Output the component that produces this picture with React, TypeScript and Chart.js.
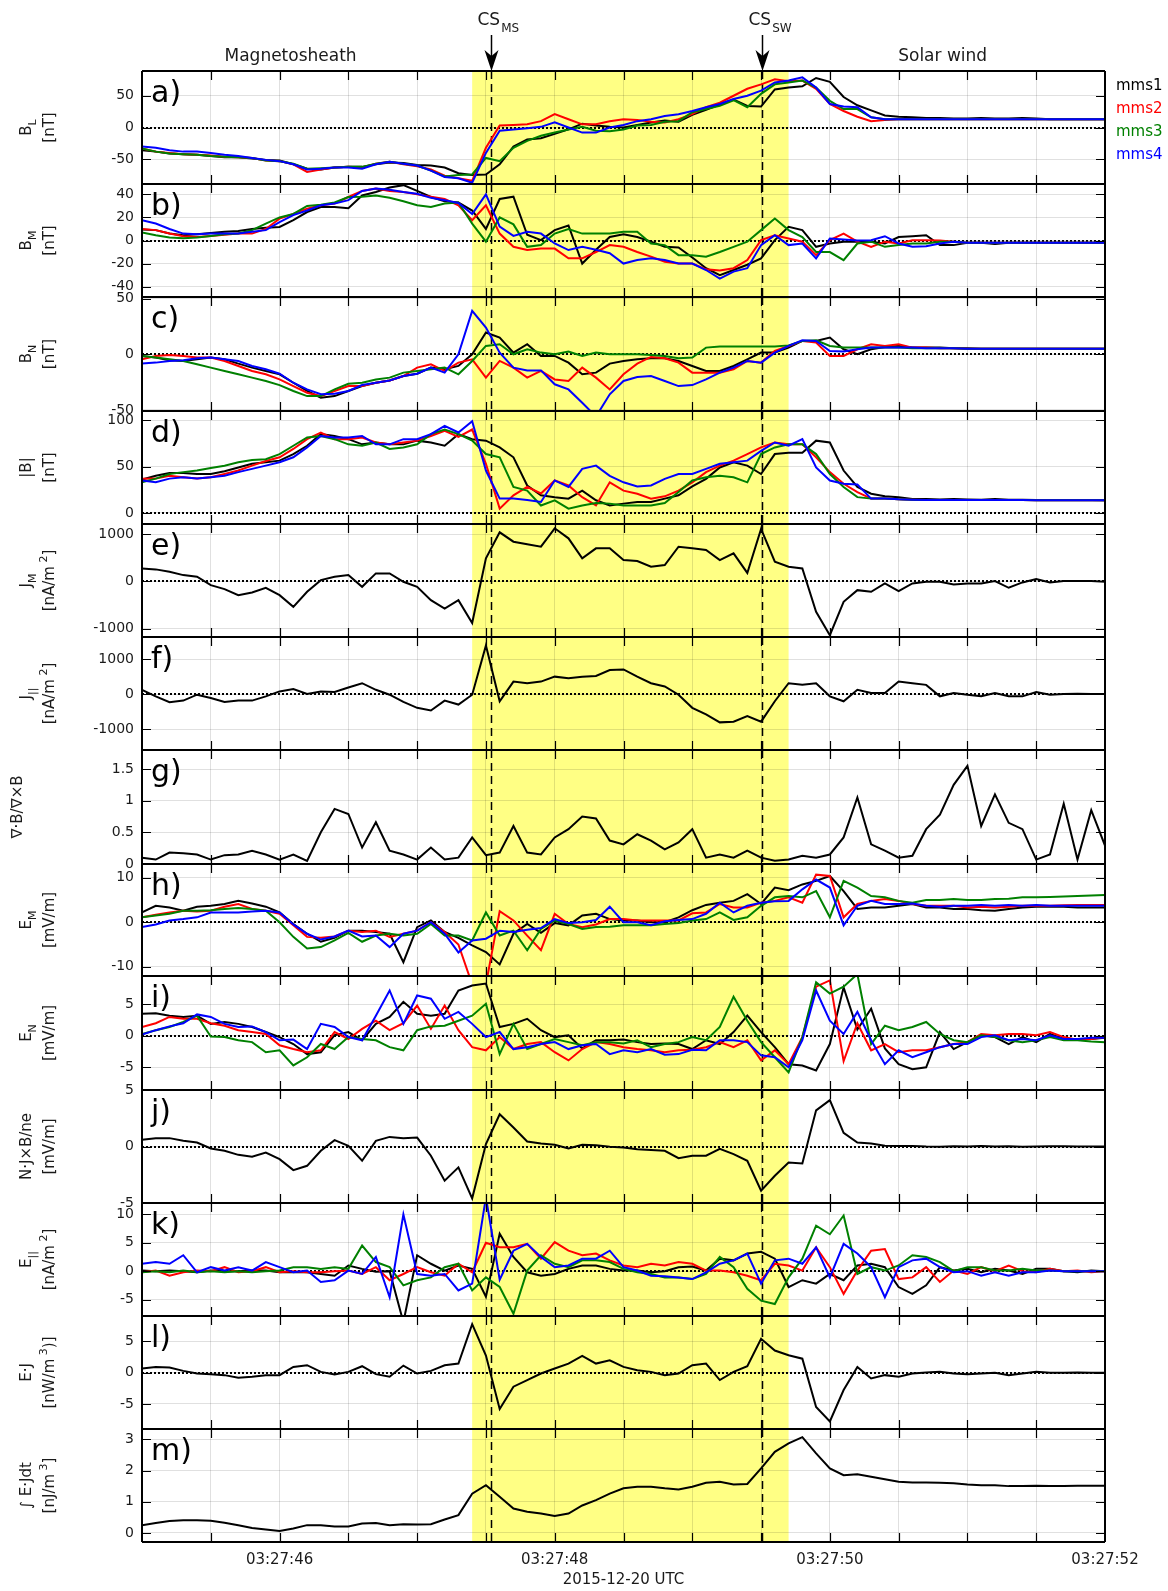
import React, { useEffect, useRef } from 'react';
import { Chart, registerables } from 'chart.js';

Chart.register(...registerables);

// ---------------- DATA ----------------
const TIMES = [
  45.0, 45.1, 45.2, 45.3, 45.4, 45.5, 45.6, 45.7, 45.8, 45.9,
  46.0, 46.1, 46.2, 46.3, 46.4, 46.5, 46.6, 46.7, 46.8, 46.9,
  47.0, 47.1, 47.2, 47.3, 47.4, 47.5, 47.6, 47.7, 47.8, 47.9,
  48.0, 48.1, 48.2, 48.3, 48.4, 48.5, 48.6, 48.7, 48.8, 48.9,
  49.0, 49.1, 49.2, 49.3, 49.4, 49.5, 49.6, 49.7, 49.8, 49.9,
  50.0, 50.1, 50.2, 50.3, 50.4, 50.5, 50.6, 50.7, 50.8, 50.9,
  51.0, 51.1, 51.2, 51.3, 51.4, 51.5, 51.6, 51.7, 51.8, 51.9,
  52.0,
];
const X_TICKS = [45, 45.5, 46, 46.5, 47, 47.5, 48, 48.5, 49, 49.5, 50, 50.5, 51, 51.5, 52];
const X_LABELS: Record<number, string> = { 46: '03:27:46', 48: '03:27:48', 50: '03:27:50', 52: '03:27:52' };
const X_TITLE = '2015-12-20 UTC';
const SHADE = [47.4, 49.7];
const CS_TIMES = [47.535, 49.51];
const CS_NAMES = ['MS', 'SW'];
const REGION_LABELS = [
  { text: 'Magnetosheath', t: 46.08 },
  { text: 'Solar wind', t: 50.82 },
];
const SC_NAMES = ['mms1', 'mms2', 'mms3', 'mms4'];
const SC_COLORS = ['#000000', '#ff0000', '#008000', '#0000ff'];

// a) B_L
const bL1 = [-36, -38, -41, -42, -43, -45, -47, -47, -49, -51, -52, -58, -65, -66, -63, -62, -62, -58, -55, -56, -59, -60, -63, -72, -75, -74, -58, -30, -19, -17, -10, -3, 6, 3, 1, 0, 4, 8, 11, 9, 20, 28, 36, 44, 34, 33, 60, 63, 65, 78, 72, 48, 35, 27, 19, 17, 16, 15, 15, 14, 14, 15, 14, 14, 15, 14, 13, 13, 13, 13, 13];
const bL2 = [-33, -38, -40, -42, -43, -44, -46, -47, -48, -52, -53, -58, -70, -66, -63, -62, -63, -57, -54, -58, -61, -66, -76, -80, -84, -32, 3, 4, 5, 10, 21, 13, 5, 5, 10, 13, 12, 9, 8, 13, 21, 32, 39, 50, 61, 68, 76, 73, 74, 61, 37, 26, 17, 10, 12, 13, 13, 13, 13, 13, 13, 13, 13, 13, 13, 13, 13, 13, 13, 13, 13];
const bL3 = [-33, -38, -41, -42, -43, -45, -46, -47, -48, -52, -53, -57, -65, -64, -63, -62, -62, -57, -54, -57, -60, -68, -77, -75, -74, -48, -53, -32, -21, -13, -8, -3, 1, -5, -6, -3, 3, 4, 9, 10, 24, 29, 34, 43, 32, 53, 68, 71, 74, 63, 42, 29, 29, 16, 13, 13, 13, 13, 13, 13, 13, 13, 13, 13, 13, 13, 13, 13, 13, 13, 13];
const bL4 = [-30, -32, -36, -38, -38, -40, -43, -45, -48, -51, -53, -58, -66, -65, -63, -63, -65, -58, -54, -57, -60, -68, -78, -80, -87, -40, -5, -3, -1, 1, 8, 0, -8, -8, 0, 4, 10, 13, 18, 21, 26, 32, 37, 45, 50, 58, 71, 74, 79, 63, 37, 33, 32, 16, 13, 13, 13, 13, 13, 13, 13, 13, 13, 13, 13, 13, 13, 13, 13, 13, 13];

// b) B_M
const bM1 = [9.5, 9, 6, 4.6, 5.5, 6.6, 7.5, 8.3, 10, 11, 11.8, 17.6, 24.7, 29, 29, 28, 39, 42, 46, 48, 43, 37.7, 34, 33, 26, 10, 36, 38, 5, 0.3, 9, 13, -20, -8, 3, 5.5, 3, -1, -5.5, -6, -14.7, -24, -30, -25.6, -21, -15.5, 0.3, 11.8, 9, -5.5, -2.6, -1, -1, -1, -2.6, 3, 3.7, 4.6, -4, -4, -2, -2, -3, -2, -2, -2, -2, -2, -2, -2, -2];
const bM2 = [10, 9, 6, 3.7, 3, 4, 5, 6, 6, 10, 19, 23, 27.6, 30.5, 32, 37.7, 43, 45, 43, 42, 40, 38, 36, 30.5, 17.6, 30.5, 6, -5.5, -8.3, -7, -7, -15.5, -15.5, -10, -4, -5.5, -10, -14, -18.4, -20, -20, -25, -26, -24, -17, 0.3, 4.6, 1.7, -1, -12.7, 0.3, 6, -1, -5.5, -1, -2.6, 0.3, 0.3, 0, -1, -2, -2, -2, -2, -2, -2, -2, -2, -2, -2, -2];
const bM3 = [7, 4.6, 2.6, 2, 2.6, 4, 5.5, 6, 9, 14.7, 20, 23, 30, 31, 33, 37.7, 38, 39, 37, 34, 30.5, 29, 32, 33, 14.7, -1, 20, 14, -5.5, -4, 6, 10, 6, 6, 6, 7.5, 7.5, -2.6, -4, -12.7, -12.7, -14, -10, -5.5, -1, 9, 19, 9, 3, -10, -10, -17, -2.6, -1, -5.5, -4, -2.6, -2.6, -1, -1, -2, -2, -2, -2, -2, -2, -2, -2, -2, -2, -2];
const bM4 = [17.6, 14.7, 10, 6, 5.5, 6, 6, 6, 7.5, 9, 16, 22, 26, 30.5, 32, 35, 43, 45, 44, 42, 40.5, 37, 35, 32.5, 23, 40, 12, 4, 7.5, 6, -2.6, -8.3, -5.5, -8, -11, -20, -17, -15.5, -17, -20, -20, -25.6, -33, -27, -24, -4, 4.6, -4, -2.6, -15.5, 1.7, 0.9, 0, 0.3, 3.7, -2.6, -5.5, -5, -2.6, -1, -2, -2, -2, -2, -2, -2, -2, -2, -2, -2, -2];

// c) B_N
const bN1 = [-1.5, -3, -5.4, -6, -4.5, -3, -4.5, -8.4, -12, -15, -18, -25.6, -33, -39, -37.6, -33, -28.6, -25.6, -23.5, -19.6, -17.5, -12, -13.5, -10.5, 0, 19.6, 15, 1.5, 9, -1.5, -1.5, -7.5, -18, -16.5, -8.4, -6, -4.5, -3.6, -3.6, -6, -10.5, -15, -15, -10.5, -4.5, 1.5, 1.5, 6, 12, 12, 15, 4.5, 0, 4.5, 6.6, 7.5, 6, 6, 6, 5.5, 5.5, 5, 5, 5, 5, 5, 5, 5, 5, 5, 5];
const bN2 = [-4.5, -1.5, -0.6, -1.5, -3, -3, -6, -10.5, -15, -18, -22.6, -28.6, -34.6, -37.6, -33, -28.6, -28.6, -25.6, -23.5, -19.6, -12, -9, -15, -7.5, -4.5, -21, -6, -12, -21, -15, -22.6, -24, -12, -21, -31.6, -18, -8.4, -2.4, -3.6, -7.5, -16.5, -16.5, -16.5, -13.5, -6, -7.5, 3, 7.5, 12, 10.5, -1.5, -1.5, 4.5, 9, 7.5, 9, 6, 6, 5.5, 5.5, 5, 5, 5, 5, 5, 5, 5, 5, 5, 5, 5];
const bN3 = [-1.5, -3, -4.5, -6, -9, -12, -15, -18, -21, -24, -27.7, -33, -37.6, -37.6, -31.6, -26.5, -25.6, -22.6, -21, -16.5, -15, -13.5, -12, -18, -6, 7.5, 9, 0, 4.5, 1.5, 0, 2.4, -1.5, 1.5, 0, 0, 0, -0.6, -1.5, -3.6, -3, 6, 7, 7, 7, 7, 7, 8, 12, 12.6, 7.5, 6, 6, 6, 6, 6, 5.5, 5.5, 5.5, 5.5, 5, 5, 5, 5, 5, 5, 5, 5, 5, 5, 5];
const bN4 = [-8.4, -7.5, -6, -5.4, -3.6, -3, -4.5, -6, -10.5, -13.5, -17.5, -25.6, -31.6, -36, -35.5, -33, -27.7, -25.6, -23.5, -19.6, -17.5, -12, -16.5, 0, 39, 24, 1.5, -12, -14.5, -14.5, -27, -31.6, -43.6, -56, -36, -24, -20.5, -19.6, -24, -28.6, -27.7, -22.6, -16.5, -12, -6, -7.5, 1.5, 7.5, 12.6, 12, 3, 2.4, 4.5, 6, 6, 6, 6, 5.5, 5.5, 5.5, 5, 5, 5, 5, 5, 5, 5, 5, 5, 5, 5];

// d) |B|
const bT1 = [36, 40, 43, 43, 42, 42, 45, 49, 53, 54.6, 56.4, 63.5, 72.5, 85, 83, 79.6, 74, 76, 74, 74, 78, 76, 72.5, 85, 79.6, 78, 70.7, 60, 29.6, 19, 17, 15.4, 24, 13.6, 8, 10, 11.8, 11.8, 15.4, 19, 28.6, 36.8, 49, 54.6, 51, 42, 63.5, 65, 65, 78, 76, 45.7, 28, 20.7, 17.9, 17, 15, 15, 14.5, 15, 14.5, 14.3, 15, 14.3, 14.3, 14, 14, 14, 14, 13.8, 13.6];
const bT2 = [36.8, 37, 40, 38.5, 37, 38.5, 42, 45.7, 51, 56, 60, 69, 79.6, 86.8, 79.6, 79.6, 81.4, 76, 74, 76, 78, 83, 88.5, 82, 90, 53, 4.6, 19, 28, 21, 35, 29.6, 17, 8, 33, 24, 20.7, 15.4, 17.9, 24, 33, 44, 51, 56.4, 63.5, 70.7, 76, 74, 74, 60, 44, 31.4, 22.5, 15.4, 15.4, 14.6, 14.3, 14, 14, 14, 14, 14, 13.8, 13.8, 13.8, 13.6, 13.6, 13.6, 13.6, 13.6, 13.6];
const bT3 = [33, 37, 42, 44, 45.7, 48.5, 51, 54.6, 57, 58, 63.5, 72.5, 81.4, 83, 79.6, 74, 72.5, 76, 69, 70.7, 74, 85, 90, 85, 78, 63.5, 60, 28, 24, 8, 13.6, 4.6, 8, 10.7, 10, 8, 8, 8, 10.7, 22.5, 35, 38.5, 40, 38.5, 33, 63.5, 70.7, 74, 74, 63.5, 42, 28, 17, 15.4, 15.4, 14.6, 14.3, 14, 14, 14, 14, 14, 13.8, 13.8, 13.8, 13.6, 13.6, 13.6, 13.6, 13.6, 13.6];
const bT4 = [35, 33, 37, 38.5, 37, 38.5, 40, 44, 47.5, 51, 54.6, 60, 70.7, 83, 81.4, 81.4, 83, 74, 74, 79.6, 79.6, 85, 94, 86.8, 99, 45.7, 15.4, 15.4, 14, 11.8, 35, 28, 47.5, 51, 40, 33, 28.6, 29.6, 36.8, 42, 42, 47.5, 53, 54.6, 56.4, 67, 76, 72.5, 79.6, 49, 35, 31.4, 30.7, 15.4, 15.4, 14.6, 14.3, 14, 14, 14, 14, 14, 13.8, 13.8, 13.8, 13.6, 13.6, 13.6, 13.6, 13.6, 13.6];

// e) J_M
const jM = [276, 255, 205, 134, 99, -78, -163, -290, -233, -134, -290, -537, -219, 28, 99, 134, -113, 170, 170, -7, -113, -396, -573, -396, -880, 488, 1039, 841, 785, 735, 1124, 912, 488, 700, 700, 452, 431, 311, 346, 735, 700, 665, 452, 594, 180, 1110, 417, 311, 276, -643, -1138, -431, -184, -219, -42, -205, -42, -7, -7, -64, -42, -42, 7, -134, -21, 49, -21, 7, 7, 7, -7];

// f) J_||
const jPar = [131, -56, -225, -178, -9, -103, -216, -178, -178, -56, 85, 150, 9, 85, 66, 197, 319, 131, -9, -216, -385, -460, -178, -291, -9, 1399, -197, 366, 319, 366, 507, 460, 507, 526, 695, 714, 507, 319, 225, -9, -385, -573, -800, -780, -620, -780, -197, 319, 272, 319, -56, -197, 131, 38, 38, 366, 319, 272, -56, 38, -9, -56, 38, -56, -56, 66, -9, 9, 19, 9, 9];

// g) divB/curlB
const divCurl = [0.10, 0.07, 0.18, 0.17, 0.15, 0.07, 0.14, 0.15, 0.21, 0.15, 0.07, 0.15, 0.05, 0.50, 0.87, 0.79, 0.26, 0.66, 0.21, 0.15, 0.07, 0.26, 0.07, 0.10, 0.42, 0.14, 0.18, 0.60, 0.18, 0.15, 0.42, 0.55, 0.75, 0.72, 0.37, 0.31, 0.47, 0.37, 0.23, 0.34, 0.55, 0.10, 0.15, 0.10, 0.21, 0.10, 0.05, 0.07, 0.13, 0.10, 0.15, 0.42, 1.05, 0.31, 0.21, 0.10, 0.13, 0.55, 0.78, 1.25, 1.55, 0.60, 1.10, 0.65, 0.55, 0.07, 0.15, 0.95, 0.07, 0.85, 0.29];

// h) E_M
const eM1 = [2.2, 3.7, 3.3, 2.6, 3.5, 3.7, 4.1, 4.8, 4.2, 3.5, 2.2, -0.4, -2.6, -4.4, -3.5, -1.9, -1.9, -2.2, -2.6, -9, -1.1, 0.4, -2.2, -3.5, -5.2, -6.7, -9.5, -2.6, -0.4, -2.4, -0.2, -0.7, 1.5, 1.9, 0.7, 0.4, 0.4, 0, 0, 1.1, 2.7, 3.9, 4.4, 4.8, 6.3, 4.1, 7.8, 7.2, 8.5, 9.3, 10.4, 7, 3, 3.3, 3.3, 3.7, 4.1, 3.3, 3.3, 3, 3, 2.7, 2.6, 3, 3.3, 3.5, 3.5, 3.5, 3.3, 3.3, 3.3];
const eM2 = [1.1, 1.7, 2.2, 2.6, 2.4, 2.6, 3.5, 4.1, 3, 2.6, 1.9, -0.7, -3.3, -3.5, -3.2, -1.9, -2.2, -1.9, -3.3, -2.6, -1.9, 0, -2.2, -5, -14, -14, 2.5, 0.4, -3, -6.3, 1.9, -0.4, -1.1, -0.5, 0.7, 0.7, 0.4, 0.4, 0.4, 0.4, 2, 2.2, 4.1, 3.3, 3.3, 4.4, 4.8, 5.6, 4.4, 10.7, 10.4, 1.1, 4.1, 4.8, 5.2, 4.8, 4.1, 3.7, 3.7, 3.7, 3.3, 3.5, 3.3, 3.5, 3.7, 3.7, 3.7, 3.8, 3.9, 3.9, 3.9];
const eM3 = [1.1, 1.5, 1.9, 2.6, 2.6, 2.7, 3, 3.2, 3, 2.6, 0, -3.3, -5.9, -5.6, -4.1, -2.4, -4.4, -3, -2.6, -3, -2.6, -0.4, -3, -3, -4.1, 2.2, -3, -1.9, -6.3, -1.5, 0.4, -0.4, -1.5, -1.1, -1, -0.7, -0.7, -0.7, -0.4, -0.2, 0.4, 0.7, 2.2, 0.5, 1.1, 3.7, 5.6, 5.9, 5.6, 7, 1.1, 9.3, 7.8, 5.9, 5.6, 4.8, 4.4, 5, 5, 5.2, 5, 5, 5.2, 5.3, 5.6, 5.6, 5.7, 5.8, 5.9, 6, 6.1];
const eM4 = [-1.1, -0.5, 0.4, 0.7, 1.1, 2.2, 2.2, 2.2, 2.4, 2.6, 2.2, -0.5, -2.6, -3.9, -3.2, -1.9, -3.2, -3, -5.6, -2.6, -1.9, 0, -2.6, -6.8, -4.1, -3.7, -1.9, -2.2, -1.7, -1.3, 0.7, -0.2, 0, 0.5, 3.5, 0, 0, -0.7, 0.2, 0.5, 0.7, 1.9, 4.4, 2.2, 3.7, 4.4, 4.7, 4.8, 7.4, 9.6, 7.8, -0.7, 3.7, 4.8, 4.1, 4.1, 4.2, 3.7, 3.5, 3.7, 3.7, 3.9, 3.7, 3.9, 3.7, 3.9, 3.7, 3.7, 3.7, 3.7, 3.7];

// i) E_N
const eN1 = [3.5, 3.6, 3.2, 3, 3.2, 1.9, 2.2, 1.9, 1.4, 0.6, -0.2, -1.3, -2.9, -2.6, 0.1, 0.6, -0.7, 1.9, 3, 5.4, 3.5, 3.2, 3.5, 7.2, 8, 8.3, 1.4, 1.9, 2.7, 0.9, -0.2, 0.1, -2, -0.7, -0.7, -0.6, -1, -1.3, -1.2, -1.3, -2.1, -0.7, -1.3, 0.6, 3.2, 0.6, -1.8, -4.5, -4.7, -5.5, -1.3, 7.7, 1, 4.3, -2, -4.5, -5.3, -5, 0.6, -2.1, -1, 0.1, -0.2, -1.3, -0.2, -1, 0.3, -0.5, -0.5, -0.5, -0.3];
const eN2 = [1.4, 2, 3, 2.7, 2.7, 2, 1.6, 0.9, 0.6, 0.3, -1.5, -2.1, -2.6, -2.3, 0.6, -0.5, 1.1, 2.4, 0.9, 2, 4.8, 1.1, 4.8, 0.9, -1.8, -2.3, -0.2, -2.1, -1.3, -1, -2.6, -3.9, -2.1, -1, -1.3, -1.8, -2.1, -2.3, -2.6, -2.3, -2.2, -1.8, -1, -1.8, -0.7, -3.9, -2.3, -4.5, -0.2, 7.8, 8.8, -4, 2, -2.3, -1.3, -2.6, -2.3, -2.3, -1.8, -1.3, -1, 0.3, 0.1, 0.3, 0.3, 0.1, 0.6, -0.2, -0.6, -0.5, -0.2];
const eN3 = [0.3, 0.9, 1.4, 2.2, 3.2, -0.1, -0.2, -0.7, -1, -2.6, -2.3, -4.7, -3.4, -1.3, -2.1, -0.2, -0.5, -0.7, -1.8, -2.3, 0.9, 1.5, 1.6, 2.4, 3.2, 5.1, -2.9, 1.9, -2.1, -1.3, -0.5, -1, -1.5, -1, -1, -1.2, -0.7, -1.8, -1.3, -1, -0.2, -0.7, 1.4, 6.2, 2.4, -1, -3.4, -5.8, -0.2, 8.5, 6.7, 7.8, 9.8, -1.3, 1.6, 0.9, 1.4, 2.2, 0.3, -0.7, -1, 0.1, -0.2, -0.7, -1, -0.7, -0.2, -0.7, -0.7, -0.9, -1];
const eN4 = [0.2, 0.9, 1.5, 2, 3.4, 3, 1.9, 1.4, 1.5, 0.6, -0.7, -0.6, -2.1, 1.9, 1.4, -0.2, -0.7, 3.2, 7.2, 1.9, 6.4, 5.9, 2.7, 3.8, 1.9, -0.2, 0.6, -2.1, -1.8, -1.3, -1, -2.1, -1.5, -1.3, -2.9, -2.3, -2.6, -2.1, -3, -2.9, -2.2, -2.3, -0.7, -0.7, -1, -3.1, -3.4, -5, -0.7, 7.2, 2.4, 0.3, 3.8, -0.7, -4.5, -2.3, -3.4, -2.6, -1.8, -1.3, -1.3, -0.2, 0.1, -0.7, -0.5, -0.7, 0.1, -0.5, -0.5, -0.3, -0.3];

// j) N.JxB/ne
const jxb = [0.59, 0.74, 0.74, 0.5, 0.35, -0.18, -0.38, -0.74, -0.91, -0.53, -1.12, -2.09, -1.71, -0.38, 0.56, 0.06, -1.26, 0.5, 0.85, 0.74, 0.79, -0.82, -3.03, -1.85, -4.59, 0.21, 2.85, 1.68, 0.44, 0.26, 0.15, -0.18, 0.15, 0.12, -0.03, -0.09, -0.24, -0.32, -0.38, -1.03, -0.82, -0.82, -0.2, -0.68, -1.26, -3.91, -2.59, -1.41, -1.5, 3.2, 4.1, 1.2, 0.35, 0.26, 0.06, 0.05, 0.05, 0, -0.02, 0.02, 0, 0.05, 0, 0.02, -0.03, 0, 0.02, 0.02, 0, 0, 0];

// k) E_||
const eP1 = [0.1, 0, 0.1, 0, -0.2, 0.1, 0, 0, 0.1, 0.1, -0.2, -0.2, -0.2, -0.5, -0.8, 1, 0.4, -0.1, 0, -9, 2.8, 1.3, 0.1, 1, 0.4, -4.5, 6.6, 2.5, -0.2, -0.8, -0.5, 0.4, 1, 1, 0.4, 0.1, 0.1, -0.2, 0, 0.7, 0.8, 0.1, 2.2, 1.9, 3.1, 3.4, 2.2, -2.8, -1.6, -2.2, -0.5, -1.6, 1, 1.3, 0.7, -2.8, -4, -2.5, 0.7, 0.1, 0.4, -0.2, 0.4, 0.1, -0.5, 0.4, 0.4, 0, -0.2, 0.1, 0];
const eP2 = [-0.2, 0.1, -0.8, -0.2, 0.1, 0, 0.7, -0.2, 0, 0.7, -0.2, 0, -0.2, -0.2, 0, 0.1, -0.5, 0.7, -1.6, -0.5, 0.7, -0.2, -0.8, 1.3, -0.2, 5, 4.2, 4.2, 4.8, 2.2, 5.1, 3.6, 2.8, 3.1, 1.9, 1, 0.7, 1.3, 1, 1.6, 1.3, 0.1, 0.1, -0.2, -0.8, -1.6, 1.3, 1, 0.1, 4.2, 0.7, -4, 0.1, 3.6, 3.9, -1.4, -1.1, 0.7, -1.9, 0.1, -0.5, 0.7, 0, 1, 0, -0.2, 0.4, 0, 0.1, -0.2, 0];
const eP3 = [-0.2, 0, -0.2, 0.1, -0.2, 0, -0.2, 0, -0.2, 0, 0.1, 0.7, 0.7, 0.4, 0.7, 0.4, 4.5, 1.6, 0.7, -2.5, -1.6, -1.1, 0.7, 1.3, -3.4, -1.1, -2.8, -7.5, 0.1, 2.8, 1.3, 0.7, 1.9, 1.9, 1.6, 0.4, -0.2, -0.5, -1.1, -1.1, -1.4, -0.5, 2.5, 0.7, -3.1, -5.2, -5.8, -1.1, 2.2, 8, 6.5, 9.8, -0.5, 0.7, 0.1, 1, 2.8, 2.5, 1.6, 0, 0.7, 0.7, 0.1, 0.1, 0.4, 0.1, 0.1, 0, 0, 0, 0];
const eP4 = [1.3, 1.6, 1.3, 2.8, -0.2, 0.7, 0.1, 0.7, 0.1, 1.6, 0.7, -0.2, 0.1, -1.9, -1.6, 0.1, -0.5, 2.5, -4.6, 10, -0.5, -0.8, -0.5, -3.4, -2.2, 13, -1.5, 3.6, 4.8, 2.5, 0.7, 1, 2.2, 2.2, 3.6, 0.7, 0.1, -0.8, -0.9, -1.1, -1.4, -0.2, 1.3, 1.9, 3.1, -2.2, 1.9, 2.2, 1.3, 4.2, -1.1, 4.8, 3.1, 0.7, -4.6, 0.7, 1.9, 2.2, 0.7, -0.2, 0, -0.8, -0.2, -0.8, -0.2, -0.2, 0.1, 0, 0, 0, 0];

// l) E.J
const eDotJ = [0.63, 0.89, 0.79, 0.26, -0.16, -0.26, -0.42, -0.84, -0.68, -0.42, -0.42, 0.89, 1.16, 0.1, -0.32, 0.1, 1.0, -0.26, -0.68, 1.1, -0.16, 0.26, 1.16, 1.42, 7.7, 2.7, -5.8, -2.26, -1.21, -0.16, 0.63, 1.42, 2.66, 1.42, 1.95, 0.89, 0.37, 0.1, -0.42, -0.16, 1.16, 1.42, -1.2, 0.1, 1.0, 5.37, 3.5, 2.74, 2.2, -5.5, -7.8, -2.8, 0.89, -0.95, -0.42, -0.68, -0.16, 0, 0.1, -0.16, -0.26, -0.16, -0.05, -0.42, -0.16, 0.1, -0.05, -0.05, 0, -0.05, -0.05];

// m) integral E.J dt
const intEJ = [0.25, 0.32, 0.38, 0.41, 0.41, 0.39, 0.33, 0.25, 0.16, 0.11, 0.06, 0.14, 0.25, 0.25, 0.21, 0.21, 0.30, 0.32, 0.25, 0.28, 0.27, 0.28, 0.43, 0.57, 1.26, 1.53, 1.16, 0.78, 0.68, 0.62, 0.54, 0.62, 0.88, 1.05, 1.26, 1.43, 1.48, 1.48, 1.43, 1.39, 1.48, 1.61, 1.64, 1.55, 1.57, 2.07, 2.6, 2.87, 3.07, 2.55, 2.07, 1.85, 1.88, 1.8, 1.72, 1.64, 1.62, 1.62, 1.61, 1.59, 1.55, 1.53, 1.53, 1.5, 1.5, 1.51, 1.5, 1.5, 1.51, 1.51, 1.51];

// y-axis tick values per panel
const TICKS_A = [-50, 0, 50];
const TICKS_B = [-40, -20, 0, 20, 40];
const TICKS_C = [-50, 0, 50];
const TICKS_D = [0, 50, 100];
const TICKS_E = [-1000, 0, 1000];
const TICKS_F = [-1000, 0, 1000];
const TICKS_G = [0, 0.5, 1, 1.5];
const TICKS_H = [-10, 0, 10];
const TICKS_I = [-5, 0, 5];
const TICKS_J = [-5, 0, 5];
const TICKS_K = [-5, 0, 5, 10];
const TICKS_L = [-5, 0, 5];
const TICKS_M = [0, 1, 2, 3];

// ---------------- LAYOUT / STYLE ----------------
const W = 1168;
const H = 1591;
const EDGES = [71, 184, 297, 411, 524, 637, 750, 864, 976, 1090, 1203, 1316, 1429, 1542];
const MARGIN = 14;
const PLOT_LEFT = 142;
const PAD_RIGHT = 63;
const FONT = 'DejaVu Sans';
const TEXT = '#1a1a1a';
const GRID = 'rgba(0,0,0,0.12)';
const YELLOW = '#ffff84';

type Seg = { t: string; m?: 'sub' | 'sup' };
type Panel = {
  letter: string;
  title: Seg[][];
  min: number;
  max: number;
  ticks: number[];
  zero: boolean;
  series: { values: number[]; color: string }[];
};

const four = (a: number[], b: number[], c: number[], d: number[]) =>
  [a, b, c, d].map((values, i) => ({ values, color: SC_COLORS[i] }));
const one = (a: number[]) => [{ values: a, color: '#000000' }];

const NT: Seg[] = [{ t: '[nT]' }];
const MVM: Seg[] = [{ t: '[mV/m]' }];
const NAM2: Seg[] = [{ t: '[nA/m' }, { t: ' 2', m: 'sup' }, { t: ']' }];

const PANELS: Panel[] = [
  { letter: 'a', title: [[{ t: 'B' }, { t: 'L', m: 'sub' }], NT], min: -89, max: 89, ticks: TICKS_A, zero: true, series: four(bL1, bL2, bL3, bL4) },
  { letter: 'b', title: [[{ t: 'B' }, { t: 'M', m: 'sub' }], NT], min: -49, max: 49, ticks: TICKS_B, zero: true, series: four(bM1, bM2, bM3, bM4) },
  { letter: 'c', title: [[{ t: 'B' }, { t: 'N', m: 'sub' }], NT], min: -51, max: 51.5, ticks: TICKS_C, zero: true, series: four(bN1, bN2, bN3, bN4) },
  { letter: 'd', title: [[{ t: '|B|' }], NT], min: -12, max: 110, ticks: TICKS_D, zero: true, series: four(bT1, bT2, bT3, bT4) },
  { letter: 'e', title: [[{ t: 'J' }, { t: 'M', m: 'sub' }], NAM2], min: -1175, max: 1215, ticks: TICKS_E, zero: true, series: one(jM) },
  { letter: 'f', title: [[{ t: 'J' }, { t: '||', m: 'sub' }], NAM2], min: -1590, max: 1640, ticks: TICKS_F, zero: true, series: one(jPar) },
  { letter: 'g', title: [[{ t: '\u2207\u00b7B/\u2207\u00d7B' }]], min: 0, max: 1.8, ticks: TICKS_G, zero: false, series: one(divCurl) },
  { letter: 'h', title: [[{ t: 'E' }, { t: 'M', m: 'sub' }], MVM], min: -12.1, max: 13.1, ticks: TICKS_H, zero: true, series: four(eM1, eM2, eM3, eM4) },
  { letter: 'i', title: [[{ t: 'E' }, { t: 'N', m: 'sub' }], MVM], min: -8.6, max: 9.5, ticks: TICKS_I, zero: true, series: four(eN1, eN2, eN3, eN4) },
  { letter: 'j', title: [[{ t: 'N\u00b7J\u00d7B/ne' }], MVM], min: -5, max: 5, ticks: TICKS_J, zero: true, series: one(jxb) },
  { letter: 'k', title: [[{ t: 'E' }, { t: '||', m: 'sub' }], NAM2], min: -7.9, max: 12, ticks: TICKS_K, zero: true, series: four(eP1, eP2, eP3, eP4) },
  { letter: 'l', title: [[{ t: 'E\u00b7J' }], [{ t: '[nW/m' }, { t: ' 3', m: 'sup' }, { t: ')]' }]], min: -9, max: 9, ticks: TICKS_L, zero: true, series: one(eDotJ) },
  { letter: 'm', title: [[{ t: '\u222b E\u00b7Jdt' }], [{ t: '[nJ/m' }, { t: ' 3', m: 'sup' }, { t: ']' }]], min: -0.29, max: 3.33, ticks: TICKS_M, zero: false, series: one(intEJ) },
];

function drawRotatedLine(ctx: CanvasRenderingContext2D, segs: Seg[], cx: number, cy: number, size: number) {
  const fontOf = (s: Seg) => `${s.m ? Math.round(size * 0.75) : size}px "${FONT}"`;
  const widths = segs.map((s) => {
    ctx.font = fontOf(s);
    return ctx.measureText(s.t).width;
  });
  const total = widths.reduce((a, b) => a + b, 0);
  ctx.save();
  ctx.translate(cx, cy);
  ctx.rotate(-Math.PI / 2);
  ctx.textAlign = 'left';
  ctx.textBaseline = 'middle';
  ctx.fillStyle = TEXT;
  let pos = -total / 2;
  segs.forEach((s, i) => {
    ctx.font = fontOf(s);
    const dy = s.m === 'sub' ? size * 0.38 : s.m === 'sup' ? -size * 0.42 : 0;
    ctx.fillText(s.t, pos, dy);
    pos += widths[i];
  });
  ctx.restore();
}

function makeDeco(spec: Panel, isFirst: boolean, isLast: boolean) {
  return {
    id: 'deco_' + spec.letter,
    beforeDraw(chart: any) {
      const { ctx, chartArea: ca } = chart;
      const x = chart.scales.x;
      const x0 = x.getPixelForValue(SHADE[0]);
      const x1 = x.getPixelForValue(SHADE[1]);
      ctx.save();
      ctx.fillStyle = YELLOW;
      ctx.fillRect(x0, ca.top, x1 - x0, ca.bottom - ca.top);
      ctx.restore();
    },
    beforeDatasetsDraw(chart: any) {
      const { ctx, chartArea: ca } = chart;
      const x = chart.scales.x;
      const y = chart.scales.y;
      ctx.save();
      ctx.strokeStyle = '#000';
      if (spec.zero) {
        const py = Math.round(y.getPixelForValue(0));
        ctx.lineWidth = 2;
        ctx.setLineDash([2, 2]);
        ctx.beginPath();
        ctx.moveTo(ca.left, py);
        ctx.lineTo(ca.right, py);
        ctx.stroke();
      }
      ctx.lineWidth = 1.5;
      ctx.setLineDash([8, 5]);
      for (const t of CS_TIMES) {
        const px = Math.round(x.getPixelForValue(t)) + 0.5;
        ctx.beginPath();
        ctx.moveTo(px, ca.top);
        ctx.lineTo(px, ca.bottom);
        ctx.stroke();
      }
      ctx.restore();
    },
    afterDraw(chart: any) {
      const { ctx, chartArea: ca } = chart;
      const x = chart.scales.x;
      const y = chart.scales.y;
      ctx.save();
      ctx.setLineDash([]);
      ctx.strokeStyle = '#000';
      // frame
      ctx.lineWidth = 2.2;
      ctx.beginPath();
      ctx.moveTo(ca.left, ca.top);
      ctx.lineTo(ca.right, ca.top);
      ctx.moveTo(ca.left, ca.bottom);
      ctx.lineTo(ca.right, ca.bottom);
      ctx.stroke();
      ctx.lineWidth = 2;
      ctx.beginPath();
      ctx.moveTo(ca.left, ca.top);
      ctx.lineTo(ca.left, ca.bottom);
      ctx.moveTo(ca.right, ca.top);
      ctx.lineTo(ca.right, ca.bottom);
      ctx.stroke();
      // inward ticks
      ctx.lineWidth = 1.2;
      ctx.beginPath();
      for (const t of X_TICKS) {
        if (t === X_TICKS[0] || t === X_TICKS[X_TICKS.length - 1]) continue;
        const px = Math.round(x.getPixelForValue(t)) + 0.5;
        ctx.moveTo(px, ca.top);
        ctx.lineTo(px, ca.top + 9);
        ctx.moveTo(px, ca.bottom);
        ctx.lineTo(px, ca.bottom - 9);
      }
      for (const v of spec.ticks) {
        const py = Math.round(y.getPixelForValue(v)) + 0.5;
        ctx.moveTo(ca.left, py);
        ctx.lineTo(ca.left + 9, py);
        ctx.moveTo(ca.right, py);
        ctx.lineTo(ca.right - 9, py);
      }
      ctx.stroke();
      // panel letter
      ctx.fillStyle = '#000';
      ctx.font = `30px "${FONT}"`;
      ctx.textAlign = 'left';
      ctx.textBaseline = 'alphabetic';
      ctx.fillText(spec.letter + ')', ca.left + 9, ca.top + 31);
      // y title
      const cy = (ca.top + ca.bottom) / 2;
      if (spec.title.length === 1) {
        drawRotatedLine(ctx, spec.title[0], 18, cy, 15);
      } else {
        drawRotatedLine(ctx, spec.title[0], 27, cy, 15);
        drawRotatedLine(ctx, spec.title[1], 50, cy, 15);
      }
      if (isFirst) {
        ctx.fillStyle = '#000';
        CS_TIMES.forEach((t, i) => {
          const px = Math.round(x.getPixelForValue(t)) + 0.5;
          ctx.lineWidth = 1.5;
          ctx.beginPath();
          ctx.moveTo(px, 35);
          ctx.lineTo(px, 58);
          ctx.stroke();
          ctx.beginPath();
          ctx.moveTo(px, ca.top);
          ctx.lineTo(px - 7, ca.top - 21);
          ctx.lineTo(px, ca.top - 15);
          ctx.lineTo(px + 7, ca.top - 21);
          ctx.closePath();
          ctx.fill();
          ctx.fillStyle = TEXT;
          ctx.font = `17px "${FONT}"`;
          ctx.textAlign = 'left';
          ctx.textBaseline = 'alphabetic';
          ctx.fillText('CS', px - 14, 25);
          const w = ctx.measureText('CS').width;
          ctx.font = `12px "${FONT}"`;
          ctx.fillText(CS_NAMES[i], px - 14 + w + 1, 32);
          ctx.fillStyle = '#000';
        });
        ctx.fillStyle = TEXT;
        ctx.font = `17px "${FONT}"`;
        ctx.textAlign = 'center';
        for (const r of REGION_LABELS) {
          ctx.fillText(r.text, x.getPixelForValue(r.t), 61);
        }
        ctx.font = `15px "${FONT}"`;
        ctx.textAlign = 'left';
        SC_NAMES.forEach((n, i) => {
          ctx.fillStyle = SC_COLORS[i];
          ctx.fillText(n, 1116, 90 + i * 23);
        });
      }
      if (isLast) {
        ctx.fillStyle = TEXT;
        ctx.font = `15px "${FONT}"`;
        ctx.textAlign = 'center';
        ctx.textBaseline = 'middle';
        ctx.fillText(X_TITLE, (ca.left + ca.right) / 2, ca.bottom + 38);
      }
      ctx.restore();
    },
  };
}

function buildConfig(spec: Panel, isFirst: boolean, isLast: boolean): any {
  const n = spec.series.length;
  return {
    type: 'line',
    data: {
      datasets: spec.series.map((s, i) => ({
        label: n > 1 ? SC_NAMES[i] : spec.letter,
        data: TIMES.map((t, j) => ({ x: t, y: s.values[j] })),
        borderColor: s.color,
        borderWidth: 2,
        pointRadius: 0,
        tension: 0,
        fill: false,
        order: n - i,
      })),
    },
    options: {
      animation: false,
      responsive: false,
      maintainAspectRatio: false,
      events: [],
      layout: {
        padding: {
          left: 0,
          right: PAD_RIGHT,
          top: isFirst ? EDGES[0] : MARGIN,
          bottom: isLast ? 0 : MARGIN,
        },
      },
      plugins: { legend: { display: false }, tooltip: { enabled: false }, title: { display: false } },
      scales: {
        x: {
          type: 'linear',
          min: TIMES[0],
          max: TIMES[TIMES.length - 1],
          afterBuildTicks: (s: any) => {
            s.ticks = X_TICKS.map((v) => ({ value: v }));
          },
          afterFit: (s: any) => {
            s.height = isLast ? H - EDGES[EDGES.length - 1] : 0;
            s.paddingLeft = 0;
            s.paddingRight = 0;
            s.paddingTop = 0;
            s.paddingBottom = 0;
          },
          ticks: {
            display: isLast,
            autoSkip: false,
            maxRotation: 0,
            minRotation: 0,
            padding: 9,
            color: TEXT,
            font: { family: FONT, size: 15 },
            callback: (v: number) => X_LABELS[v] ?? '',
          },
          grid: { color: GRID, lineWidth: 1, drawTicks: false },
          border: { display: false },
        },
        y: {
          type: 'linear',
          min: spec.min,
          max: spec.max,
          afterBuildTicks: (s: any) => {
            s.ticks = spec.ticks.map((v) => ({ value: v }));
          },
          afterFit: (s: any) => {
            s.width = PLOT_LEFT;
            s.paddingTop = 0;
            s.paddingBottom = 0;
            s.paddingLeft = 0;
            s.paddingRight = 0;
          },
          ticks: {
            padding: 8,
            color: TEXT,
            font: { family: FONT, size: 14 },
            callback: (v: number) => String(v),
          },
          grid: { color: GRID, lineWidth: 1, drawTicks: false },
          border: { display: false },
        },
      },
    },
    plugins: [makeDeco(spec, isFirst, isLast)],
  };
}

function PanelChart({ spec, index }: { spec: Panel; index: number }) {
  const ref = useRef<HTMLCanvasElement>(null);
  const isFirst = index === 0;
  const isLast = index === PANELS.length - 1;
  const top = isFirst ? 0 : EDGES[index] - MARGIN;
  const bottom = isLast ? H : EDGES[index + 1] + MARGIN;
  const h = bottom - top;
  useEffect(() => {
    if (!ref.current) return;
    const chart = new Chart(ref.current, buildConfig(spec, isFirst, isLast));
    return () => chart.destroy();
  }, []);
  return (
    <canvas
      ref={ref}
      width={W}
      height={h}
      style={{ position: 'absolute', left: 0, top, width: W, height: h, display: 'block' }}
    />
  );
}

export default function App() {
  return (
    <div style={{ position: 'absolute', left: 0, top: 0, width: W, height: H, background: '#ffffff', overflow: 'hidden' }}>
      {PANELS.map((p, i) => (
        <PanelChart key={p.letter} spec={p} index={i} />
      ))}
    </div>
  );
}
